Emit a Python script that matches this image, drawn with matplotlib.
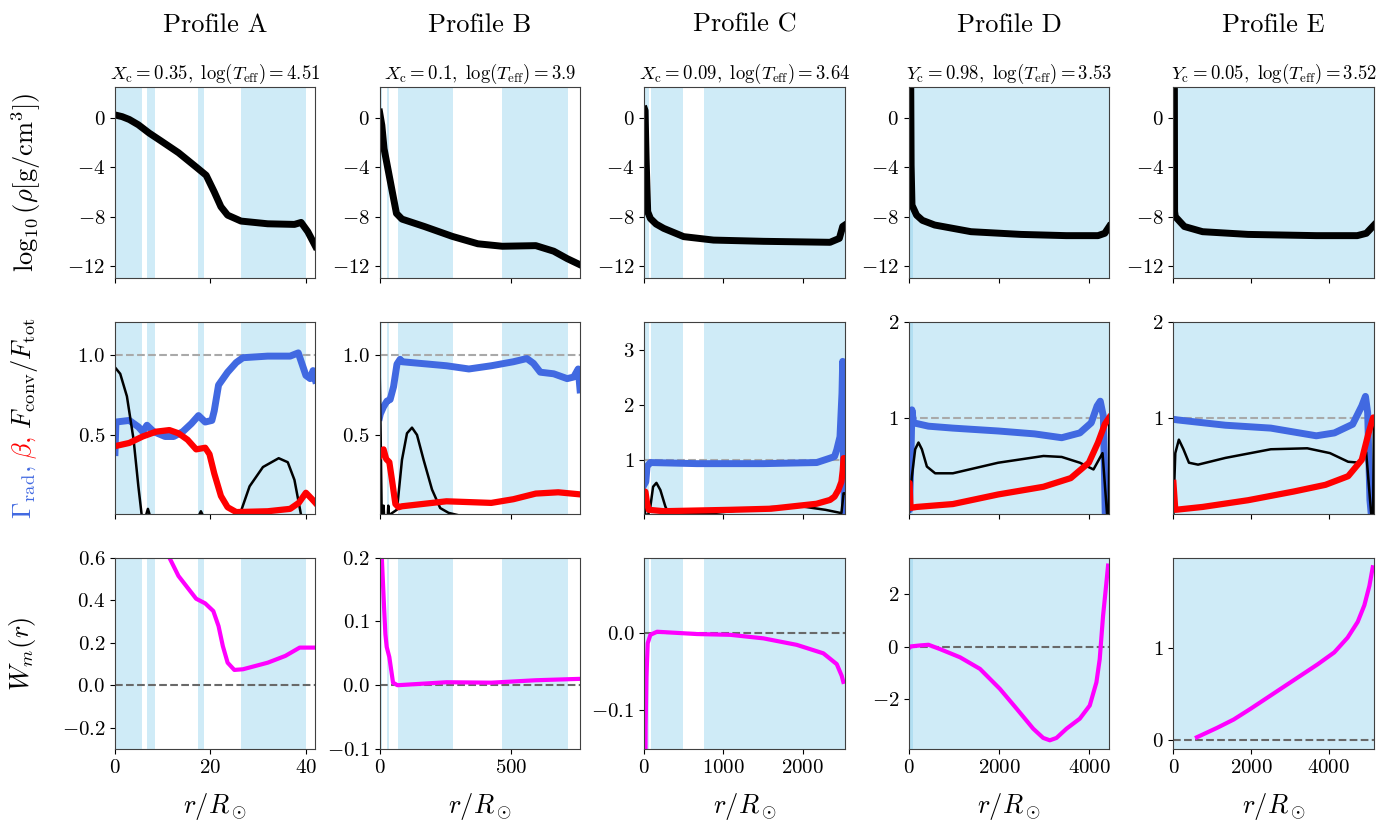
import matplotlib.pyplot as plt

# ----------------
# Style
# ----------------
plt.rcParams['font.family'] = 'serif'
plt.rcParams['font.serif'] = ['cmr10', 'DejaVu Serif']
plt.rcParams['mathtext.fontset'] = 'cm'
plt.rcParams['axes.formatter.use_mathtext'] = True
plt.rcParams['axes.edgecolor'] = '0.25'

BAND_COLOR = 'skyblue'
GAMMA_COLOR = 'royalblue'
BETA_COLOR = 'red'
W_COLOR = 'magenta'

# ----------------
# Column setup
# ----------------
names = ["Profile A", "Profile B", "Profile C", "Profile D", "Profile E"]
subtitles = [r"$X_{\rm c} = 0.35,\ \log(T_{\rm eff}) = 4.51$",
             r"$X_{\rm c} = 0.1,\ \log(T_{\rm eff}) = 3.9$",
             r"$X_{\rm c} = 0.09,\ \log(T_{\rm eff}) = 3.64$",
             r"$Y_{\rm c} = 0.98,\ \log(T_{\rm eff}) = 3.53$",
             r"$Y_{\rm c} = 0.05,\ \log(T_{\rm eff}) = 3.52$"]
r_max = [42, 761, 2530, 4440, 5170]
r_ticks = [[0, 20, 40], [0, 500], [0, 1000, 2000], [0, 2000, 4000], [0, 2000, 4000]]

# convective zones (r / Rsun)
zones_A = [(0, 5.6), (6.8, 8.3), (17.3, 18.6), (26.5, 40.0)]
zones_B = [(2, 11), (28, 37), (68, 277), (466, 717)]
zones_C = [(0, 65), (85, 485), (755, 2530)]
zones_D = [(0, 4440), (25, 85)]
zones_E = [(0, 5170)]

# ----------------
# Density profiles
# ----------------
r_rho_A = [0, 1.5, 3, 4.9, 7.2, 9.5, 13.3, 17.0, 19.1, 20.8, 22.2, 23.6, 26.4, 32, 37.6, 39, 40.4, 42]
rho_A = [0.24, 0.1, -0.13, -0.56, -1.24, -1.83, -2.82, -3.98, -4.65, -6.0, -7.2, -7.88, -8.36, -8.58, -8.63, -8.47, -9.22, -10.4]
r_rho_B = [0, 8.5, 17, 34, 51, 64, 85, 170, 276, 373, 466, 593, 661, 712, 761]
rho_B = [0.46, -0.6, -2.5, -4.4, -6.3, -7.74, -8.2, -8.8, -9.6, -10.2, -10.4, -10.35, -10.8, -11.4, -11.9]
r_rho_C = [5, 11, 24, 44, 78, 150, 246, 498, 875, 1505, 2345, 2463, 2505, 2528]
rho_C = [0.7, 0.59, -3.3, -7.6, -8.15, -8.6, -8.95, -9.62, -9.9, -10.0, -10.08, -9.76, -8.8, -8.7]
r_rho_D = [42, 51, 70, 172, 300, 573, 1377, 2482, 3487, 4190, 4340, 4440]
rho_D = [3.0, -3.84, -7.07, -7.88, -8.3, -8.68, -9.22, -9.44, -9.54, -9.54, -9.35, -8.8]
r_rho_E = [24, 30, 48, 282, 751, 1925, 3685, 4740, 4975, 5170]
rho_E = [3.0, -7.6, -8.0, -8.8, -9.22, -9.44, -9.54, -9.54, -9.35, -8.7]

# ----------------
# Gamma_rad, beta, F_conv/F_tot
# ----------------
r_gam_A = [0, 0.2, 3, 4.9, 5.8, 6.7, 8.1, 10.5, 12.3, 14.2, 16, 17.5, 18.9, 20.3, 20.8, 21.7, 23.6, 25.4, 26.8, 32, 36.7, 38.4, 40, 40.9, 41.5, 42]
gam_A = [0.39, 0.58, 0.59, 0.55, 0.52, 0.56, 0.52, 0.49, 0.49, 0.52, 0.57, 0.62, 0.58, 0.59, 0.65, 0.81, 0.89, 0.95, 0.98, 0.99, 0.99, 1.01, 0.87, 0.85, 0.90, 0.84]
r_beta_A = [0, 3, 5.8, 8.6, 11.4, 13.3, 15.2, 17, 18.9, 19.8, 20.8, 22.2, 23.6, 25.4, 32, 36.7, 38.5, 40, 41.3, 42]
beta_A = [0.43, 0.45, 0.49, 0.52, 0.53, 0.51, 0.47, 0.41, 0.42, 0.38, 0.26, 0.12, 0.05, 0.02, 0.025, 0.04, 0.077, 0.14, 0.10, 0.077]
r_conv_A = [0, 1.1, 2.5, 3.9, 4.9, 5.6, 6.5, 6.9, 7.3, 17.6, 18.0, 18.4, 26.1, 28.2, 31, 34.3, 36.2, 37.6, 39, 42]
conv_A = [0.92, 0.88, 0.74, 0.47, 0.18, 0, 0, 0.04, 0, 0, 0.025, 0, 0, 0.18, 0.30, 0.355, 0.33, 0.22, 0, 0]

r_gam_B = [0, 2.7, 15, 28, 40, 53, 66, 78, 85, 254, 339, 424, 508, 559, 584, 610, 661, 712, 737, 754, 761]
gam_B = [0.61, 0.63, 0.675, 0.71, 0.72, 0.80, 0.94, 0.97, 0.955, 0.93, 0.91, 0.93, 0.955, 0.975, 0.945, 0.89, 0.88, 0.85, 0.86, 0.91, 0.78]
r_beta_B = [0, 2.7, 15, 25, 37, 47, 60, 72, 85, 254, 424, 508, 593, 678, 761]
beta_B = [0.37, 0.39, 0.41, 0.35, 0.33, 0.22, 0.07, 0.05, 0.056, 0.087, 0.077, 0.10, 0.135, 0.143, 0.13]
r_conv_B = [0, 4, 8, 13, 15, 17, 31, 33, 35, 66, 85, 104, 123, 142, 167, 199, 230, 262, 300, 761]
conv_B = [0.92, 0.5, 0, 0, 0.06, 0, 0, 0.06, 0, 0.035, 0.345, 0.51, 0.545, 0.5, 0.345, 0.16, 0.045, 0.015, 0, 0]

r_gam_C = [0, 20, 36, 78, 666, 1505, 2177, 2345, 2402, 2430, 2471, 2496, 2505, 2515, 2528]
gam_C = [0.55, 0.6, 0.88, 0.95, 0.93, 0.93, 0.95, 1.03, 1.06, 1.18, 1.42, 2.21, 2.79, 1.0, 0.05]
r_beta_C = [0, 15, 36, 57, 246, 1086, 1600, 2174, 2345, 2402, 2450, 2489, 2505, 2516, 2528]
beta_C = [0.42, 0.42, 0.21, 0.09, 0.065, 0.09, 0.11, 0.2, 0.27, 0.33, 0.45, 0.6, 0.8, 1.03, 1.03]
r_conv_C = [0, 10, 20, 50, 78, 112, 154, 204, 267, 309, 800, 1600, 2000, 2288, 2489, 2516, 2528]
conv_C = [0.4, 0, 0, 0, 0.15, 0.51, 0.58, 0.45, 0.15, 0.02, 0.02, 0.14, 0.15, 0.09, 0.03, 0.39, 0.39]

r_gam_D = [0, 15, 46, 68, 104, 435, 975, 1980, 2783, 3386, 3788, 4040, 4170, 4240, 4310, 4350, 4440]
gam_D = [0.05, 0.05, 0.57, 1.09, 0.955, 0.92, 0.90, 0.87, 0.84, 0.80, 0.85, 0.955, 1.13, 1.18, 1.02, 0.01, 0.01]
r_beta_D = [0, 15, 38, 172, 975, 1980, 2983, 3587, 3987, 4190, 4340, 4440]
beta_D = [0.33, 0.33, 0.07, 0.08, 0.11, 0.21, 0.29, 0.38, 0.54, 0.75, 0.94, 1.01]
r_conv_D = [0, 10, 68, 141, 214, 289, 400, 583, 975, 1980, 2983, 3386, 3788, 4090, 4290, 4390, 4430, 4440]
conv_D = [0.01, 0.05, 0.40, 0.68, 0.75, 0.68, 0.50, 0.43, 0.43, 0.54, 0.61, 0.60, 0.54, 0.47, 0.64, 0.01, 0.01, 0.97]

r_gam_E = [0, 24, 106, 1340, 2511, 3685, 4152, 4622, 4857, 4952, 5009, 5068, 5100, 5170]
gam_E = [0.99, 0.99, 0.985, 0.93, 0.90, 0.82, 0.85, 0.94, 1.13, 1.23, 1.06, 0.15, 0.01, 0.01]
r_beta_E = [0, 48, 751, 1925, 3097, 3920, 4506, 4857, 5033, 5151, 5170]
beta_E = [0.33, 0.05, 0.08, 0.15, 0.24, 0.31, 0.40, 0.57, 0.85, 1.01, 1.01]
r_conv_E = [0, 20, 48, 140, 258, 400, 635, 1340, 2511, 3451, 4036, 4506, 4797, 4970, 5100, 5150, 5170]
conv_E = [0.01, 0.3, 0.64, 0.78, 0.68, 0.54, 0.52, 0.59, 0.68, 0.69, 0.64, 0.55, 0.54, 0.65, 0.01, 0.01, 0.95]

# ----------------
# Work function W_m(r)
# ----------------
r_W_A = [10.5, 11.4, 13.3, 15.2, 17, 18.9, 20.6, 21.7, 22.6, 23.6, 25, 26.8, 32, 35.7, 38.7, 42]
W_A = [0.65, 0.6, 0.514, 0.459, 0.407, 0.385, 0.349, 0.278, 0.184, 0.106, 0.072, 0.075, 0.106, 0.138, 0.177, 0.177]
r_W_B = [5, 8.5, 17, 22, 27, 37, 51, 68, 254, 424, 593, 761]
W_B = [0.25, 0.2, 0.122, 0.08, 0.06, 0.044, 0.004, 0.0, 0.0047, 0.004, 0.0078, 0.01]
r_W_C = [14, 18, 28, 44, 78, 162, 666, 1086, 1505, 1925, 2261, 2430, 2492, 2513]
W_C = [-0.2, -0.12, -0.057, -0.013, -0.002, 0.002, -0.001, -0.002, -0.0066, -0.015, -0.026, -0.04, -0.055, -0.063]
r_W_D = [0, 29, 250, 435, 692, 1134, 1576, 2018, 2387, 2755, 2976, 3123, 3271, 3492, 3786, 4007, 4155, 4228, 4302, 4376, 4413]
W_D = [-0.06, 0.01, 0.05, 0.075, -0.09, -0.40, -0.84, -1.60, -2.35, -3.11, -3.46, -3.55, -3.46, -3.11, -2.73, -2.23, -1.35, -0.47, 1.17, 2.43, 3.08]
r_W_E = [605, 1123, 1555, 1987, 2419, 2851, 3283, 3715, 4147, 4492, 4752, 4924, 5054, 5140]
W_E = [0.033, 0.134, 0.225, 0.34, 0.46, 0.58, 0.70, 0.82, 0.95, 1.11, 1.28, 1.46, 1.67, 1.87]

# axis limits for the lower rows
mid_ylim = [(0.01, 1.2), (0.01, 1.2), (0.02, 3.5), (0.01, 2), (0.01, 2)]
mid_yticks = [[0.5, 1.0], [0.5, 1.0], [1, 2, 3], [1, 2], [1, 2]]
W_ylim = [(-0.3, 0.6), (-0.1, 0.2), (-0.15, 0.098), (-3.88, 3.38), (-0.094, 1.974)]
W_yticks = [[-0.2, 0.0, 0.2, 0.4, 0.6], [-0.1, 0.0, 0.1, 0.2], [-0.1, 0.0], [-2, 0, 2], [0, 1]]

zones = [zones_A, zones_B, zones_C, zones_D, zones_E]
rho = [(r_rho_A, rho_A), (r_rho_B, rho_B), (r_rho_C, rho_C), (r_rho_D, rho_D), (r_rho_E, rho_E)]
gam = [(r_gam_A, gam_A), (r_gam_B, gam_B), (r_gam_C, gam_C), (r_gam_D, gam_D), (r_gam_E, gam_E)]
beta = [(r_beta_A, beta_A), (r_beta_B, beta_B), (r_beta_C, beta_C), (r_beta_D, beta_D), (r_beta_E, beta_E)]
conv = [(r_conv_A, conv_A), (r_conv_B, conv_B), (r_conv_C, conv_C), (r_conv_D, conv_D), (r_conv_E, conv_E)]
work = [(r_W_A, W_A), (r_W_B, W_B), (r_W_C, W_C), (r_W_D, W_D), (r_W_E, W_E)]

# ----------------
# Figure
# ----------------
fig = plt.figure(figsize=(13.92, 8.21), dpi=100)
axes = fig.subplots(3, 5, sharex='col')
fig.subplots_adjust(left=0.0826, right=0.987, top=0.894, bottom=0.0877,
                    wspace=0.32, hspace=0.23)

for j in range(5):
    ax_rho, ax_mid, ax_W = axes[:, j]
    for ax in axes[:, j]:
        for a, b in zones[j]:
            ax.axvspan(a, b, color=BAND_COLOR, alpha=0.4, lw=0, zorder=0)
        ax.tick_params(labelsize=15)

    ax_rho.plot(*rho[j], color='k', lw=5, solid_joinstyle='round')
    ax_rho.set_ylim(-13, 2.5)
    ax_rho.set_yticks([0, -4, -8, -12])
    ax_rho.set_title(subtitles[j], fontsize=13.5, pad=6)

    ax_mid.axhline(1, color='darkgray', ls='--', lw=1.5, zorder=1)
    ax_mid.plot(*gam[j], color=GAMMA_COLOR, lw=5, solid_joinstyle='round')
    ax_mid.plot(*conv[j], color='k', lw=1.8)
    ax_mid.plot(*beta[j], color=BETA_COLOR, lw=4.5, solid_joinstyle='round')
    ax_mid.set_ylim(*mid_ylim[j])
    ax_mid.set_yticks(mid_yticks[j])

    ax_W.axhline(0, color='dimgray', ls='--', lw=1.5, zorder=1)
    ax_W.plot(*work[j], color=W_COLOR, lw=3, solid_joinstyle='round')
    ax_W.set_ylim(*W_ylim[j])
    ax_W.set_yticks(W_yticks[j])
    ax_W.set_xlim(0, r_max[j])
    ax_W.set_xticks(r_ticks[j])
    ax_W.set_xlabel(r"$r/R_\odot$", fontsize=19, labelpad=10)

    pos = ax_rho.get_position()
    fig.text((pos.x0 + pos.x1) / 2, 1 - 25 / 821, names[j], fontsize=19,
             ha='center', va='center')

# row labels
row_y = [(axes[i, 0].get_position().y0 + axes[i, 0].get_position().y1) / 2 for i in range(3)]
fig.text(26 / 1392, row_y[0], r"$\log_{10}(\rho[{\rm g/cm}^3])$", fontsize=19,
         rotation=90, ha='center', va='center')
fig.text(22 / 1392, row_y[2], r"$W_m(r)$", fontsize=19,
         rotation=90, ha='center', va='center')

parts = [(r"$\Gamma_{\rm rad},$", GAMMA_COLOR), (r"$\ \beta,$", BETA_COLOR),
         (r"$\ F_{\rm conv}/F_{\rm tot}$", 'k')]
x_base = 31 / 1392
texts = [fig.text(x_base, row_y[1], s, color=c, fontsize=19, rotation=90,
                  rotation_mode='anchor', ha='left', va='baseline') for s, c in parts]
fig.canvas.draw()
renderer = fig.canvas.get_renderer()
lengths = [t.get_window_extent(renderer).height for t in texts]
y = row_y[1] * fig.bbox.height - sum(lengths) / 2
for t, h in zip(texts, lengths):
    t.set_position((x_base, y / fig.bbox.height))
    y += h

fig.savefig("out.png", dpi=100)
